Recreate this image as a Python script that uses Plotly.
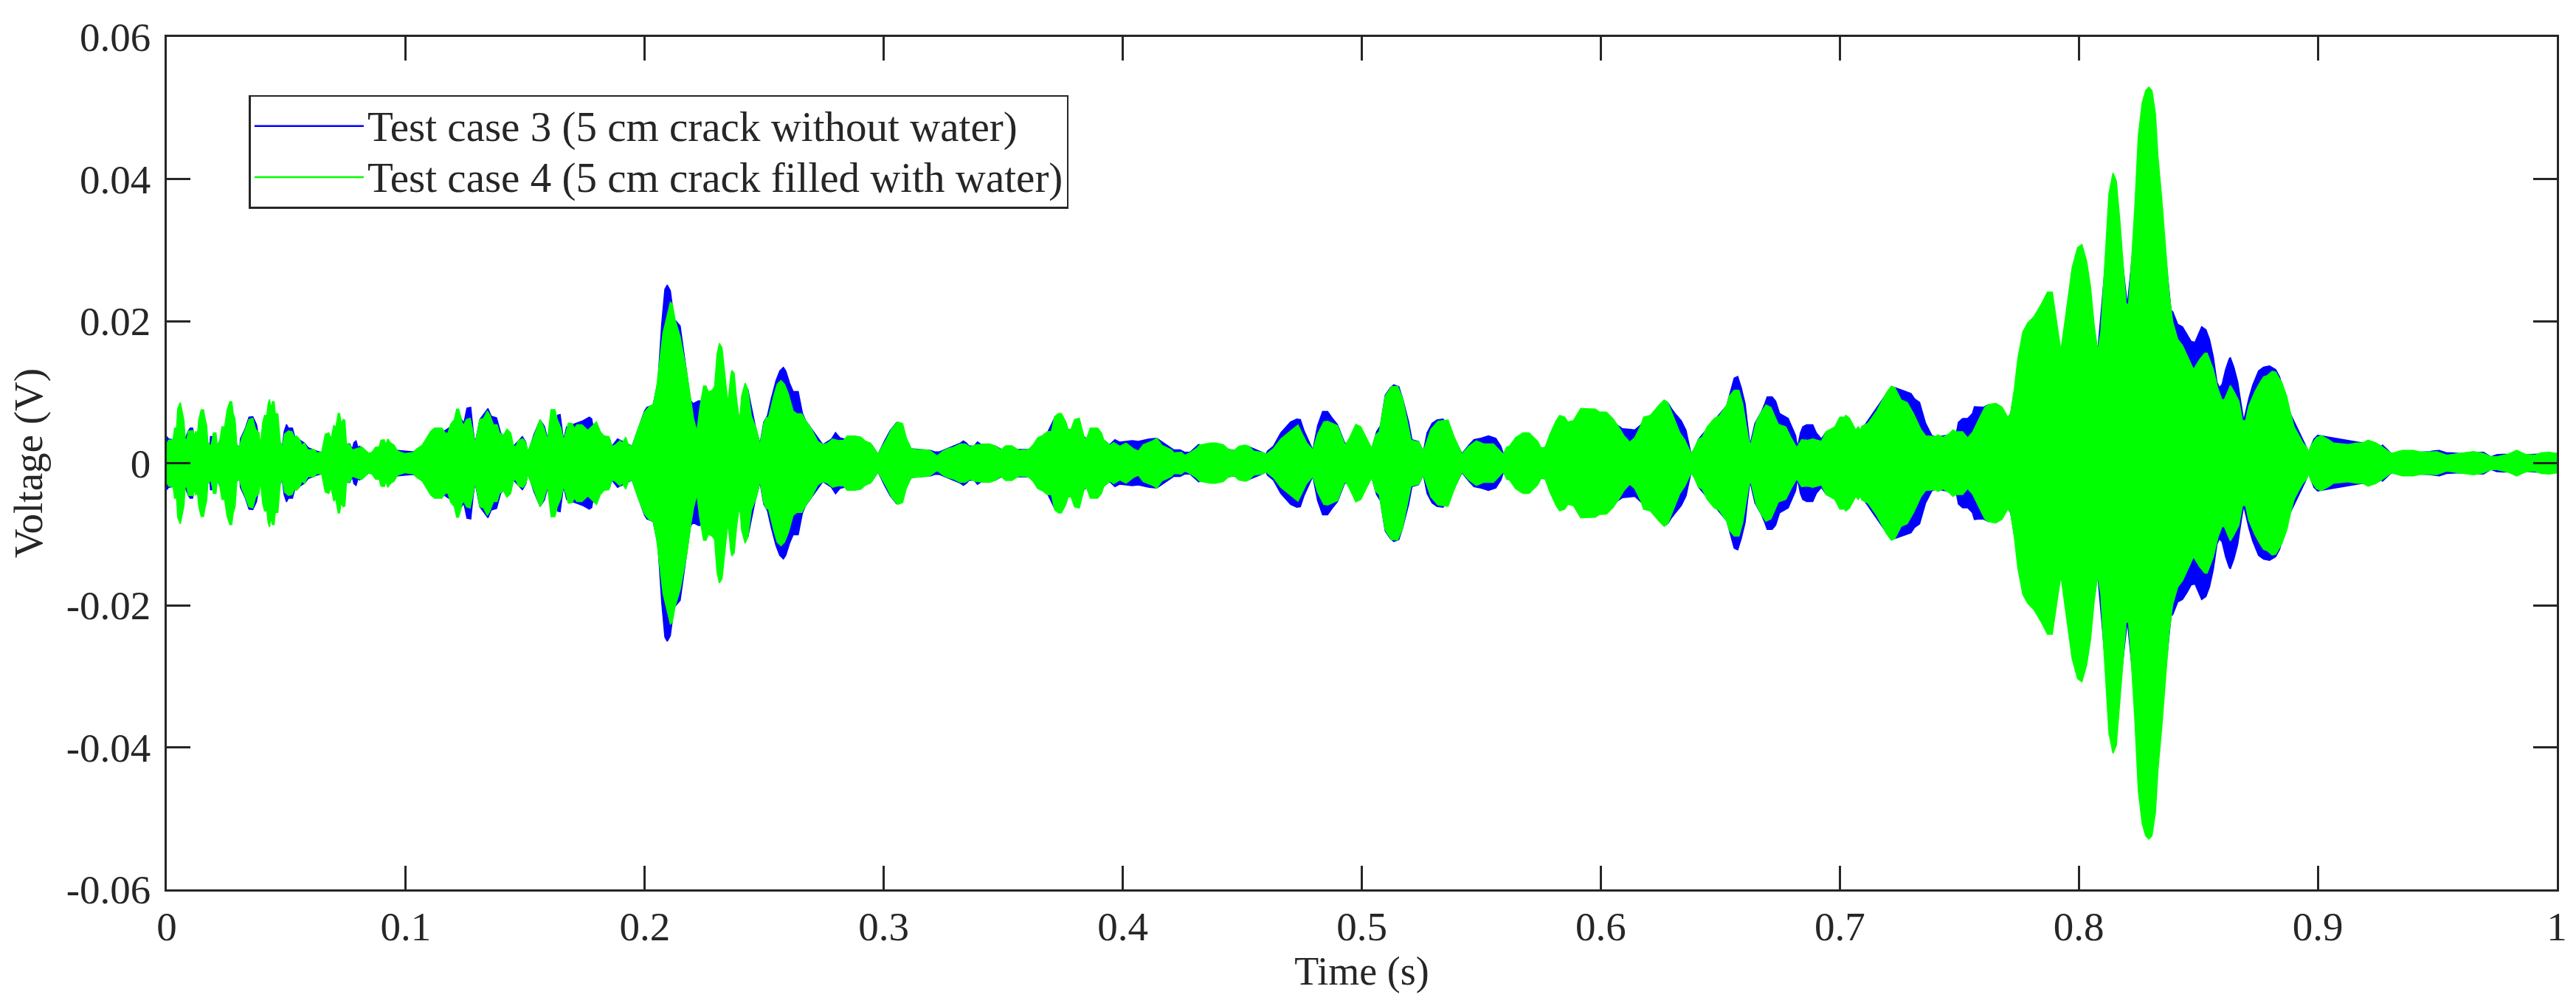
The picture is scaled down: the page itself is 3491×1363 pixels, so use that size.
import plotly.graph_objects as go

# Envelope of each voltage record: time (s) and half-height (mV)
green_t_1 = [0,.0008,.0026,.0033,.0041,.0046,.0057,.0064,.0072,.0077,.0084,.0090,.0111,.0115,.0121,.0129,.0134,.0144,.0154,.0159,.0167,.0172,.0185,.0195,.0206,.0211,.0221,.0231,.0242,.0252,.0264,.0272,.0278,.0286,.0293,.0303,.0314,.0329,.0344,.0360,.0372,.0386,.0392,.0401,.0409,.0419,.0424,.0430,.0436,.0442,.0449,.0454,.0465,.0475,.0483,.0493,.0509,.0524,.0535,.0543,.0555,.0565,.0576,.0591,.0617,.0627,.0648,.0663,.0678,.0687,.0699,.0707,.0717,.0723,.0730,.0738,.0745,.0752,.0766,.0776,.0807,.0817,.0843,.0858,.0874,.0889,.0896,.0910,.0917,.0925,.0935,.0951,.0966,.0997,.1033,.1043,.1069,.1105,.1121,.1151,.1167,.1177,.1187,.1203,.1213,.1221,.1232]
green_v_1 = [2.71,3.23,3.30,4.94,4.94,7.68,8.54,7.34,5.97,3.40,3.30,4.53,4.60,3.57,4.43,4.32,6.14,7.51,7.51,6.48,5.28,2.89,2.37,4.26,4.26,2.47,3.06,5.11,5.11,7.41,8.64,8.64,7.0,6.14,2.54,2.2,3.57,4.77,6.14,6.31,4.77,4.26,2.47,5.62,6.72,6.72,8.36,8.98,7.68,8.64,8.64,7.0,6.93,2.89,2.2,4.08,4.53,4.43,3.57,3.81,3.40,2.54,2.82,1.86,1.93,1.45,1.52,4.08,4.26,3.40,5.35,4.94,7.0,7.0,5.56,6.14,6.04,2.71,2.61,1.86,2.2,2.27,1.41,1.52,2.27,2.27,3.23,3.30,2.54,3.40,2.89,2.54,1.69,1.34,1.52,1.93,2.54,4.53,4.94,4.94,4.19,4.26,5.45,6.14,7.61,7.61,6.31]
green_t_2 = [.1233,.1241,.1254,.1269,.1279,.1290,.1300,.1310,.1326,.1341,.1351,.1367,.1382,.1392,.1408,.1423,.1439,.1451,.1461,.1472,.1490,.1502,.1511,.1521,.1536,.1562,.1577,.1593,.1601,.1608,.1624,.1634,.1649,.1660,.1670,.1680,.1696,.1706,.1716,.1737,.1762,.1783,.1798,.1814,.1829,.1850,.1862,.1876,.1896,.1906,.1920,.1932,.1947,.1973,.1999,.2019,.2035,.2050,.2076,.2107,.2115,.2127,.2148,.2174,.2194,.2204,.2218,.2230,.2246,.2256,.2266,.2282,.2292,.2302,.2312,.2323,.2333,.2348,.2359,.2364,.2374,.2384,.2397,.2405,.2420,.2431,.2446,.2467]
green_v_2 = [5.98,5.29,6.15,6.32,4.78,2.72,4.27,6.15,6.32,7.35,6.83,5.39,5.39,4.27,3.85,4.78,4.27,2.38,2.38,3.24,3.41,2.90,1.53,2.55,3.75,6.15,5.12,3.24,5.63,7.52,7.52,6.15,4.95,3.24,4.27,5.63,5.57,4.88,5.39,5.39,4.61,5.29,5.81,4.44,3.82,3.75,2.38,2.55,3.17,2.83,3.65,2.55,2.38,4.95,7.17,7.96,8.20,10.77,18.3,22.65,22.41,20.18,17.79,13.16,8.37,6.32,4.44,7.69,10.87,10.87,10.02,10.26,10.77,15.22,16.86,16.25,13.16,8.37,12.14,13.06,12.65,9.06,5.81,9.40,11.28,10.43,6.66,4.78]
green_t_3 = [.2482,.2498,.2508,.2518,.2539,.2554,.2570,.2585,.2601,.2621,.2637,.2657,.2673,.2698,.2724,.2745,.2765,.2786,.2811,.2832,.2847,.2878,.2904,.2924,.2945,.2976,.2991,.3012,.3032,.3058,.3079,.3094,.3115,.3135,.3176,.3197,.3223,.3248,.3269,.3289,.3320,.3341,.3361,.3387,.3444,.3469,.3490,.3510,.3536,.3567,.3608,.3624,.3644,.3665,.3685,.3701]
green_v_3 = [2.54,5.62,6.38,6.48,9.39,11.10,11.62,11.10,9.73,7.34,6.93,6.93,5.97,4.77,3.06,2.61,2.82,3.40,3.16,3.23,3.81,3.81,3.67,3.06,2.82,1.24,2.2,3.40,4.77,5.80,5.56,3.57,2.03,1.93,1.86,1.69,1.0,1.69,2.03,2.2,2.71,2.71,2.27,2.61,2.71,2.37,1.86,2.44,2.44,1.79,1.96,2.54,3.57,3.91,4.43,4.43]
green_t_4 = [.3715,.3731,.3743,.3762,.3772,.3784,.3798,.3818,.3839,.3849,.3864,.3895,.3911,.3921,.3947,.3962,.3988,.4014,.4044,.4065,.4086,.4121,.4142,.4163,.4204,.4214,.4245,.4260,.4281,.4307,.4322,.4368,.4389,.4420,.4445,.4466,.4486,.4512,.4528,.4548,.4584,.4600,.4630,.4661,.4702,.4733,.4769,.4795,.4815,.4841,.4857,.4898,.4928]
green_v_4 = [6.55,7.0,7.0,5.80,4.67,4.77,6.14,6.31,3.57,3.47,4.94,4.94,4.26,3.23,2.54,2.89,2.37,2.82,2.03,1.69,2.61,3.06,3.50,2.54,1.86,1.45,1.52,1.10,1.45,2.03,2.54,2.82,2.82,2.61,1.86,1.79,2.37,2.54,2.37,1.69,1.52,1.24,2.03,3.40,4.53,5.35,2.89,1.86,4.08,5.80,5.90,5.28,2.71]
green_t_5 = [.4934,.4949,.4975,.4996,.5021,.5042,.5057,.5073,.5098,.5124,.5150,.5170,.5191,.5206,.5237,.5258,.5289,.5319,.5361,.5386,.5419,.5448,.5479,.5510,.5551,.5592,.5607,.5618,.5643,.5674,.5700,.5736,.5751,.5767,.5787,.5813,.5828,.5849,.5862,.5885,.5916,.5977,.5993,.6024,.6049,.6075,.6096,.6121,.6142,.6168]
green_v_5 = [2.71,3.57,5.45,5.11,3.40,2.03,3.91,4.43,9.39,10.76,10.83,9.22,5.80,3.23,2.99,1.69,4.77,5.90,6.07,3.74,1.24,2.37,3.13,2.71,2.71,1.24,2.30,2.37,3.57,4.26,4.26,3.06,2.10,2.2,4.08,5.97,6.72,6.48,5.80,5.97,7.68,7.61,7.23,7.17,6.31,5.11,3.91,2.95,3.57,5.35]
green_t_6 = [.6179,.6208,.6244,.6265,.6280,.6301,.6331,.6352,.6378,.6393,.6409,.6424,.6445,.6475,.6496,.6527,.6537,.6558,.6578,.6594,.6619,.6627,.6650,.6671,.6691,.6712,.6732,.6743,.6774,.6794,.6820,.6840,.6866,.6887,.6923,.6943,.6979,.7000,.7020,.7025,.7041,.7067,.7077,.7087,.7092,.7118,.7154,.7195,.7216,.7231,.7257,.7282,.7308,.7339,.7359,.7400]
green_v_6 = [6.48,6.72,8.19,8.88,8.54,6.82,4.26,3.23,1.34,2.2,3.40,3.64,5.11,6.31,6.65,8.19,9.39,10.25,10.25,8.36,3.23,2.54,5.80,7.17,8.19,7.85,6.31,5.45,5.11,3.74,2.2,3.30,3.23,3.40,3.06,4.43,5.11,6.48,6.48,6.75,6.31,4.67,5.11,4.60,5.18,5.62,7.34,9.90,10.83,10.59,8.88,8.54,7.0,4.77,3.84,3.74]
green_t_7 = [.7411,.7432,.7458,.7473,.7488,.7514,.7535,.7555,.7581,.7607,.7622,.7653,.7679,.7704,.7715,.7730,.7745,.7766,.7786,.7812,.7843,.7869,.7889,.7900,.7910,.7925,.7941,.7956,.7972,.7995,.8013,.8033,.8049,.8064,.8079,.8092,.8105,.8126,.8143,.8157,.8172,.8187,.8198,.8208,.8218,.8234,.8249,.8265,.8280,.8293,.8306,.8321,.8331,.8347,.8362,.8378,.8393,.8414,.8434,.8460,.8480,.8506,.8527,.8537,.8563,.8583,.8599,.8609,.8624]
green_v_7 = [3.99,3.63,4.16,4.69,4.41,4.41,3.56,4.34,6.11,7.88,8.23,8.41,7.88,6.39,6.99,10.35,14.78,18.49,19.73,20.62,22.38,24.08,24.08,21.68,19.20,15.84,19.73,23.62,27.51,30.34,30.77,28.40,24.86,19.55,15.73,18.49,26.28,37.95,40.85,39.72,34.06,26.98,22.38,22.38,26.98,35.83,46.09,50.69,52.46,52.92,52.46,49.10,43.26,37.24,30.88,23.80,19.91,17.43,16.55,14.60,13.18,14.60,15.48,15.48,13.18,10.35,8.94,8.94,10.18]
green_t_8 = [.8634,.8649,.8670,.8685,.8698,.8711,.8737,.8757,.8773,.8788,.8809,.8824,.8850,.8870,.8886,.8901,.8922,.8937,.8953,.8961,.8973,.8994,.9014,.9045,.9066,.9107,.9127,.9163,.9189,.9210,.9241,.9266,.9307,.9354,.9400,.9436,.9467,.9498,.9539,.9595,.9652,.9693,.9724,.9749,.9796,.9832,.9868,.9909,.9934,.9970,1.0]
green_v_8 = [10.94,10.08,8.72,5.98,5.98,8.03,10.08,11.28,12.14,12.31,12.93,12.82,11.28,9.40,7.0,5.12,3.75,2.90,2.21,1.46,2.55,3.58,3.85,3.31,2.83,2.69,2.62,2.83,2.83,3.24,2.90,2.38,1.36,1.80,1.80,1.53,1.60,1.60,1.12,1.36,1.63,1.36,0.91,0.91,1.25,1.80,1.25,1.12,1.46,1.53,1.36]

blue_t_1 = [0,.0008,.0026,.0077,.0090,.0098,.0108,.0116,.0129,.0172,.0180,.0183,.0192,.0211,.0252,.0293,.0306,.0308,.0329,.0344,.0360,.0375,.0392,.0475,.0483,.0491,.0501,.0509,.0526,.0535,.0576,.0591,.0627,.0648,.0752,.0766,.0776,.0783,.0792,.0800,.0807,.0843,.0966,.1033]
blue_v_1 = [3.74,3.40,3.30,3.40,4.53,4.94,4.94,3.57,4.32,2.89,2.37,3.74,3.74,2.47,5.11,2.54,2.2,3.4,4.94,6.48,6.55,5.45,2.47,2.89,2.2,4.43,5.45,4.94,4.94,3.74,2.82,2.2,1.69,1.52,2.71,2.71,1.93,2.89,3.13,2.2,2.37,1.41,1.79,1.59]
blue_t_2 = [.1233,.1243,.1256,.1272,.1282,.1290,.1310,.1331,.1344,.1358,.1380,.1397,.1408,.1451,.1488,.1502,.1511,.1536,.1562,.1580,.1595,.1636,.1646,.1660,.1673,.1742,.1768,.1778,.1783,.1829,.1853,.1862,.1886,.1947,.1999,.2009,.2035,.2055,.2071,.2084,.2094,.2107,.2122,.2148,.2163,.2179,.2191,.2202,.2225,.2348,.2387,.2397,.2410,.2431,.2462]
blue_v_2 = [6.15,5.63,7.76,7.86,4.61,2.72,6.15,7.07,7.69,6.59,6.39,4.27,3.85,2.38,3.75,2.96,1.36,4.0,6.08,5.19,3.24,6.76,6.83,3.24,5.12,5.98,6.49,6.25,5.29,3.82,3.41,2.38,3.41,2.38,7.35,7.86,8.2,11.45,19.67,24.46,25.08,24.29,20.35,19.33,15.90,11.8,8.89,8.37,8.78,8.37,5.69,5.81,9.91,10.43,5.29]
blue_t_3 = [.2482,.2498,.2513,.2529,.2549,.2565,.2580,.2590,.2606,.2621,.2642,.2660,.2673,.2745,.2781,.2798,.2817,.2835,.2924,.2950,.2976,.3002,.3027,.3053,.3115,.3199,.3212,.3233,.3253,.3320,.3333,.3346,.3356,.3377,.3392,.3408,.3433,.3469,.3495,.3608,.3685]
blue_v_3 = [2.71,5.8,6.65,9.05,11.62,12.99,13.5,12.99,11.27,10.08,10.08,7.0,5.97,2.61,3.4,4.32,3.57,3.4,3.06,2.54,1.24,3.06,4.6,5.69,2.03,1.76,1.58,1.58,1.86,2.82,3.13,2.82,2.44,2.37,2.99,2.61,2.71,2.37,1.86,1.96,4.3]
blue_t_4 = [.3715,.3772,.3784,.3849,.3921,.3945,.3967,.3988,.4014,.4039,.4065,.4091,.4111,.4142,.4214,.4240,.4260,.4281,.4317,.4466,.4528,.4584,.4600,.4605,.4630,.4661,.4702,.4728,.4743,.4759,.4795,.4815,.4836,.4857,.4877,.4898,.4928]
blue_v_4 = [6.4,4.67,4.77,3.47,3.23,2.6,3.30,2.95,3.06,3.16,3.06,3.23,3.4,3.5,1.86,1.86,1.52,1.52,2.61,1.79,2.3,1.52,1.24,1.69,2.37,4.26,5.80,6.21,6.14,4.53,1.86,5.28,7.27,7.27,6.31,5.45,2.89]
blue_t_5 = [.4934,.5042,.5062,.5078,.5098,.5119,.5134,.5155,.5170,.5196,.5210,.5237,.5258,.5273,.5294,.5314,.5340,.5366,.5391,.5419,.5448,.5469,.5494,.5530,.5561,.5582,.5592,.5751,.5767,.5885,.6049,.6065,.6090,.6116,.6142,.6166]
blue_v_5 = [2.71,2.03,4.43,5.28,9.56,10.59,11.03,10.76,9.22,5.8,3.3,3.06,1.69,4.26,5.62,6.07,6.21,5.11,3.23,1.34,2.54,3.30,3.47,3.84,3.5,2.37,1.34,2.1,2.2,5.9,6.31,5.45,4.87,4.77,4.67,5.35]
blue_t_6 = [.6208,.6265,.6280,.6296,.6311,.6337,.6357,.6378,.6393,.6409,.6527,.6537,.6558,.6573,.6588,.6604,.6614,.6624,.6645,.6671,.6686,.6696,.6717,.6732,.6748,.6784,.6815,.6823,.6835,.6845,.6861,.6887,.6902,.6923,.6943,.7067,.7087,.7216,.7242,.7262,.7298,.7313,.7334,.7359,.7385,.7400]
blue_v_6 = [6.7,8.8,8.54,7.68,7.0,5.97,4.6,1.24,2.03,3.4,8.1,9.39,11.96,12.2,10.59,8.36,5.28,2.54,5.62,7.17,8.36,9.32,9.32,8.71,7.0,6.31,3.91,2.2,4.26,5.11,5.39,5.39,4.26,3.4,4.4,4.6,4.5,10.8,10.49,10.25,9.8,9.05,8.54,5.62,3.91,3.7]
blue_t_7 = [.7411,.7458,.7488,.7496,.7514,.7535,.7555,.7563,.7581,.7601,.7622,.7704,.7715,.7730,.7869,.7925,.8013,.8079,.8143,.8203,.8293,.8386,.8393,.8414,.8434,.8454,.8470,.8486,.8501,.8514,.8532,.8547,.8563,.8578,.8588,.8599,.8614,.8629]
blue_v_7 = [3.7,4.0,4.3,5.76,6.29,6.29,6.99,7.95,7.88,7.88,8.23,6.39,6.99,10.0,23.9,15.66,30.4,15.66,40.4,22.2,52.4,21.5,21.32,19.55,19.2,18.14,17.15,17.01,18.14,19.2,18.78,17.43,14.95,11.42,10.64,11.06,13.18,14.67]
blue_t_8 = [.8634,.8649,.8665,.8680,.8690,.8711,.8727,.8752,.8773,.8798,.8824,.8840,.8886,.8953,.8961,.8973,.8984,.8999,.9014,.9266,.9271,.9292,.9307,.9467,.9477,.9508,.9539,.9559,.9595,.9693,.9724,.9749,.9775,.9868,1.0]
blue_v_8 = [14.88,13.51,11.45,8.03,5.98,9.06,10.94,13.0,13.51,13.68,13.17,12.14,6.9,2.2,1.46,2.55,3.41,3.92,3.85,2.38,2.55,1.87,1.36,1.6,1.7,1.8,1.46,1.46,1.36,1.53,.9,1.19,1.25,1.2,1.36]

x_ticks = [0, .1, .2, .3, .4, .5, .6, .7, .8, .9, 1]
x_labels = ["0", "0.1", "0.2", "0.3", "0.4", "0.5", "0.6", "0.7", "0.8", "0.9", "1"]
y_ticks = [-.06, -.04, -.02, 0, .02, .04, .06]
y_labels = ["-0.06", "-0.04", "-0.02", "0", "0.02", "0.04", "0.06"]
names = ["Test case 3 (5 cm crack without water)", "Test case 4 (5 cm crack filled with water)"]
colors = ["#0000ff", "#00ff00"]


def join(*strips):
    out = []
    for t, v in strips:
        if len(t) != len(v):
            raise ValueError(f"{len(t)} {len(v)} {t[0]}")
        out += list(zip(t, v))
    return [p[0] for p in out], [p[1] / 1000 for p in out]


blue_t, blue_v = join((blue_t_1, blue_v_1), (blue_t_2, blue_v_2), (blue_t_3, blue_v_3), (blue_t_4, blue_v_4),
                      (blue_t_5, blue_v_5), (blue_t_6, blue_v_6), (blue_t_7, blue_v_7), (blue_t_8, blue_v_8))
green_t, green_v = join((green_t_1, green_v_1), (green_t_2, green_v_2), (green_t_3, green_v_3), (green_t_4, green_v_4),
                        (green_t_5, green_v_5), (green_t_6, green_v_6), (green_t_7, green_v_7), (green_t_8, green_v_8))

fig = go.Figure()
for t, v, c in ((blue_t, blue_v, colors[0]), (green_t, green_v, colors[1])):
    fig.add_trace(go.Scatter(x=t + t[::-1], y=v + [-a for a in v[::-1]], mode="lines", fill="toself",
                             fillcolor=c, line=dict(color=c, width=1.5), showlegend=False, hoverinfo="skip"))
for n, c in zip(names, colors):
    fig.add_trace(go.Scatter(x=[None], y=[None], mode="lines", name=f'<span style="font-size:57px">{n}</span>',
                             line=dict(color=c, width=2.5)))

axis_common = dict(showgrid=False, zeroline=False, showline=True, linecolor="#262626", linewidth=2.5, mirror="ticks",
                   ticks="inside", ticklen=32, tickwidth=2.5, tickcolor="#262626",
                   tickfont=dict(family="Liberation Serif", size=55, color="#262626"))
fig.update_xaxes(range=[0, 1], tickmode="array", tickvals=x_ticks, ticktext=x_labels,
                 title=dict(text="Time (s)", standoff=0, font=dict(family="Liberation Serif", size=54, color="#262626")),
                 **axis_common)
fig.update_yaxes(range=[-.06, .06], tickmode="array", tickvals=y_ticks, ticktext=y_labels, ticklabelstandoff=8,
                 title=dict(text="Voltage (V)", standoff=16, font=dict(family="Liberation Serif", size=55, color="#262626")),
                 **axis_common)
fig.update_layout(width=3483, height=1355, autosize=False, paper_bgcolor="white", plot_bgcolor="white",
                  margin=dict(l=218, r=22, t=29.5, b=157.5, pad=0),
                  legend=dict(x=.0344, y=.9319, xanchor="left", yanchor="top", bgcolor="white", bordercolor="#262626",
                              borderwidth=2.5, itemwidth=148, entrywidth=967, entrywidthmode="pixels",
                              font=dict(family="Liberation Serif", size=51, color="#262626"), tracegroupgap=0))
fig.write_html("out.html")
